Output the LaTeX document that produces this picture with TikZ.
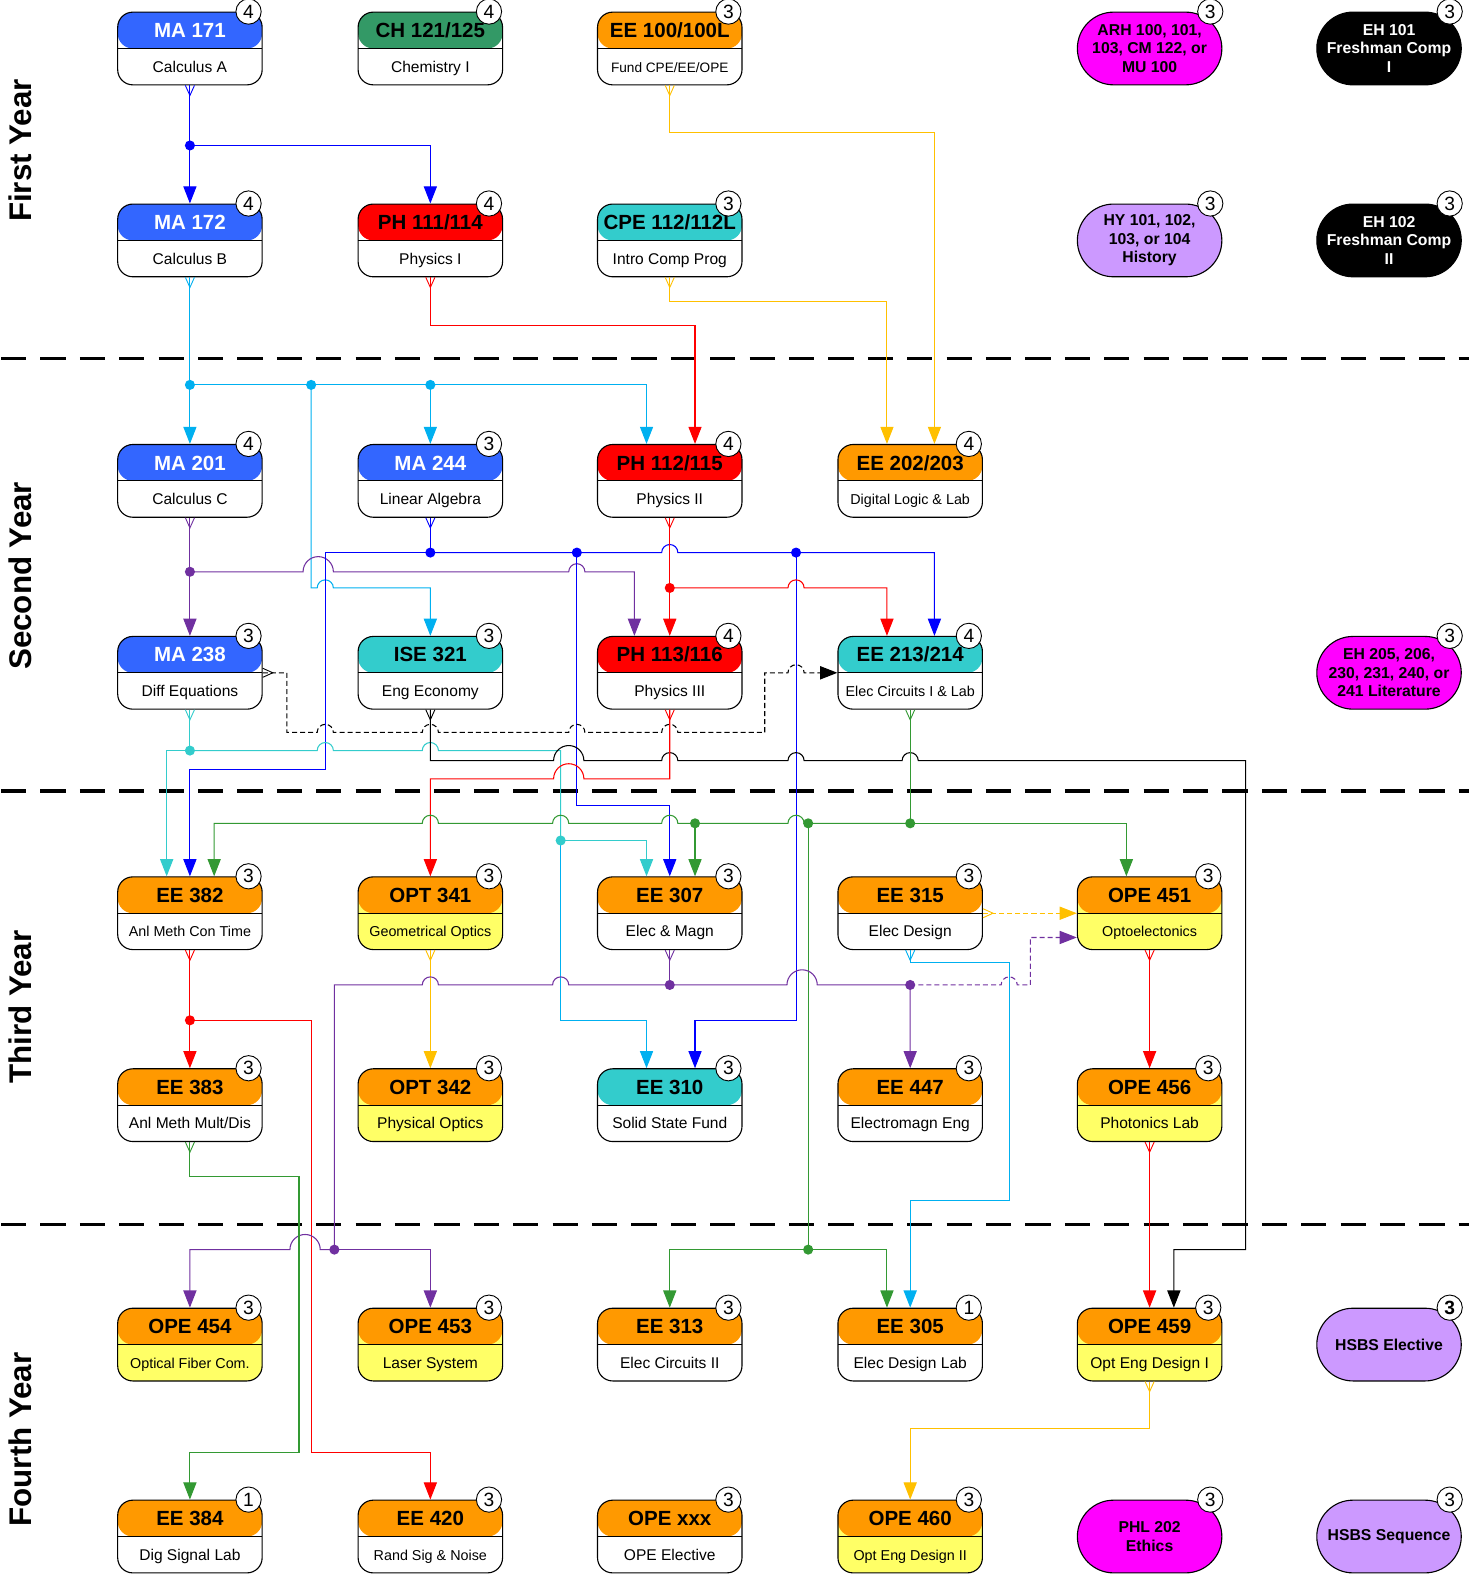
\documentclass[tikz,border=0pt]{standalone}
\usepackage{fontspec}
\setmainfont{Liberation Sans}
\usetikzlibrary{arrows.meta}
\definecolor{cBlue}{HTML}{0000FF}
\definecolor{cSky}{HTML}{00B0F0}
\definecolor{cTeal}{HTML}{33CCCC}
\definecolor{cRed}{HTML}{FF0000}
\definecolor{cGold}{HTML}{FFC000}
\definecolor{cPurp}{HTML}{7030A0}
\definecolor{cGreen}{HTML}{339933}
\definecolor{fBlue}{HTML}{3366FF}
\definecolor{fGreen}{HTML}{339966}
\definecolor{fOrange}{HTML}{FF9900}
\definecolor{fRed}{HTML}{FF0000}
\definecolor{fTeal}{HTML}{33CCCC}
\definecolor{fYellow}{HTML}{FFFF66}
\definecolor{fMag}{HTML}{FF00FF}
\definecolor{fLav}{HTML}{CC99FF}
\newcommand\smf{\fontsize{14.2}{16}\selectfont}
\newcommand\course[9]{%
  \node[cbox, fill=#7, path picture={\fill[#4] (path picture bounding box.north west) rectangle (path picture bounding box.east);\draw[line width=1.1pt] (path picture bounding box.west) -- (path picture bounding box.east);}] (#1) at (#2,#3) {};
  \node[htext, text=#5] (#1-t) at ([yshift=18pt]#1.center) {#6};
  \node[stext] (#1-s) at ([yshift=-18pt]#1.center) {#8};
  \node[badge] (#1-b) at ([xshift=-14pt]#1.north east) {#9};
}
\newcommand\pill[7]{%
  \node[pillbox, fill=#4, text=#5] (#1) at (#2,#3) {#6};
  \node[badge] (#1-b) at ([xshift=-12pt]#1.north east) {#7};
}
\tikzset{
  cbox/.style={draw, line width=1.1pt, rounded corners=15pt, minimum width=143pt, minimum height=72pt, inner sep=0pt},
  pillbox/.style={draw, line width=1.1pt, rounded corners=35.9pt, minimum width=143pt, minimum height=72pt, inner sep=0pt, align=center, font=\bfseries\fontsize{15.6}{18.5}\selectfont},
  htext/.style={inner sep=0pt, text height=14.5pt, text depth=0pt, font=\bfseries\fontsize{20.3}{24}\selectfont},
  stext/.style={inner sep=0pt, text height=10.8pt, text depth=0pt, font=\fontsize{15.4}{18}\selectfont},
  badge/.style={circle, draw, fill=white, line width=0.9pt, minimum size=25pt, inner sep=0pt, font=\fontsize{19}{20}\selectfont},
  yearlbl/.style={rotate=90, inner sep=0pt, font=\bfseries\fontsize{31}{36}\selectfont},
  ln/.style={color=#1, line width=1.05pt},
  arr/.style={-{Triangle[length=17pt,width=13pt]}},
  dsh/.style={dash pattern=on 5pt off 3pt},
  hr/.style={insert path={arc[start angle=180,end angle=0,radius=8pt]}},
  hl/.style={insert path={arc[start angle=0,end angle=180,radius=8pt]}},
  hrB/.style={insert path={arc[start angle=180,end angle=0,radius=15pt]}},
  hlB/.style={insert path={arc[start angle=0,end angle=180,radius=15pt]}},
  pics/cf/.style={code={\draw[line width=0.9pt] (-4.5,0) -- (0,10) -- (4.5,0);}},
  pics/cfr/.style={code={\draw[line width=0.9pt] (0,-4.5) -- (10,0) -- (0,4.5);}},
}
\begin{document}
\begin{tikzpicture}[x=1pt,y=-1pt]
\useasboundingbox (0,0) rectangle (1454,1569);
% year separators
\foreach \yy in {355,783,1212} \draw[line width=3.5pt, dash pattern=on 25pt off 14pt] (1,\yy) -- (1454,\yy);
\node[yearlbl] (y1) at (20,149) {First Year};
\node[yearlbl] (y2) at (20,570) {Second Year};
\node[yearlbl] (y3) at (20,997) {Third Year};
\node[yearlbl] (y4) at (20,1425) {Fourth Year};
% row 1
\course{ma171}{188}{48}{fBlue}{white}{MA 171}{white}{Calculus A}{4}
\course{ch121}{426}{48}{fGreen}{black}{CH 121/125}{white}{Chemistry I}{4}
\course{ee100}{663}{48}{fOrange}{black}{EE 100/100L}{white}{\fontsize{13.5}{16}\selectfont Fund CPE/EE/OPE}{3}
\pill{arh}{1138}{48}{fMag}{black}{ARH 100, 101,\\103, CM 122, or\\MU 100}{3}
\pill{eh101}{1375}{48}{black}{white}{EH 101\\Freshman Comp\\I}{3}
% row 2
\course{ma172}{188}{238}{fBlue}{white}{MA 172}{white}{Calculus B}{4}
\course{ph111}{426}{238}{fRed}{black}{PH 111/114}{white}{Physics I}{4}
\course{cpe112}{663}{238}{fTeal}{black}{CPE 112/112L}{white}{Intro Comp Prog}{3}
\pill{hy}{1138}{238}{fLav}{black}{HY 101, 102,\\103, or 104\\History}{3}
\pill{eh102}{1375}{238}{black}{white}{EH 102\\Freshman Comp\\II}{3}
% row 3
\course{ma201}{188}{476}{fBlue}{white}{MA 201}{white}{Calculus C}{4}
\course{ma244}{426}{476}{fBlue}{white}{MA 244}{white}{Linear Algebra}{3}
\course{ph112}{663}{476}{fRed}{black}{PH 112/115}{white}{Physics II}{4}
\course{ee202}{901}{476}{fOrange}{black}{EE 202/203}{white}{\smf Digital Logic \& Lab}{4}
% row 4
\course{ma238}{188}{666}{fBlue}{white}{MA 238}{white}{Diff Equations}{3}
\course{ise321}{426}{666}{fTeal}{black}{ISE 321}{white}{Eng Economy}{3}
\course{ph113}{663}{666}{fRed}{black}{PH 113/116}{white}{Physics III}{4}
\course{ee213}{901}{666}{fTeal}{black}{EE 213/214}{white}{\smf Elec Circuits I \& Lab}{4}
\pill{eh205}{1375}{666}{fMag}{black}{EH 205, 206,\\230, 231, 240, or\\241 Literature}{3}
% row 5
\course{ee382}{188}{904}{fOrange}{black}{EE 382}{white}{\smf Anl Meth Con Time}{3}
\course{opt341}{426}{904}{fOrange}{black}{OPT 341}{fYellow}{\smf Geometrical Optics}{3}
\course{ee307}{663}{904}{fOrange}{black}{EE 307}{white}{Elec \& Magn}{3}
\course{ee315}{901}{904}{fOrange}{black}{EE 315}{white}{Elec Design}{3}
\course{ope451}{1138}{904}{fOrange}{black}{OPE 451}{fYellow}{\smf Optoelectonics}{3}
% row 6
\course{ee383}{188}{1094}{fOrange}{black}{EE 383}{white}{Anl Meth Mult/Dis}{3}
\course{opt342}{426}{1094}{fOrange}{black}{OPT 342}{fYellow}{Physical Optics}{3}
\course{ee310}{663}{1094}{fTeal}{black}{EE 310}{white}{Solid State Fund}{3}
\course{ee447}{901}{1094}{fOrange}{black}{EE 447}{white}{Electromagn Eng}{3}
\course{ope456}{1138}{1094}{fOrange}{black}{OPE 456}{fYellow}{Photonics Lab}{3}
% row 7
\course{ope454}{188}{1331}{fOrange}{black}{OPE 454}{fYellow}{\smf Optical Fiber Com.}{3}
\course{ope453}{426}{1331}{fOrange}{black}{OPE 453}{fYellow}{Laser System}{3}
\course{ee313}{663}{1331}{fOrange}{black}{EE 313}{white}{Elec Circuits II}{3}
\course{ee305}{901}{1331}{fOrange}{black}{EE 305}{white}{Elec Design Lab}{1}
\course{ope459}{1138}{1331}{fOrange}{black}{OPE 459}{fYellow}{Opt Eng Design I}{3}
\pill{hsbse}{1375}{1331}{fLav}{black}{HSBS Elective}{\bfseries 3}
% row 8
\course{ee384}{188}{1521}{fOrange}{black}{EE 384}{white}{Dig Signal Lab}{1}
\course{ee420}{426}{1521}{fOrange}{black}{EE 420}{white}{\smf Rand Sig \& Noise}{3}
\course{opexxx}{663}{1521}{fOrange}{black}{OPE xxx}{white}{OPE Elective}{3}
\course{ope460}{901}{1521}{fOrange}{black}{OPE 460}{fYellow}{\smf Opt Eng Design II}{3}
\pill{phl202}{1138}{1521}{fMag}{black}{PHL 202\\Ethics}{3}
\pill{hsbss}{1375}{1521}{fLav}{black}{HSBS Sequence}{3}
% junctions
\coordinate (j1) at (188,144);
\coordinate (j2) at (188,381); \coordinate (j3) at (308,381); \coordinate (j4) at (426,381);
\coordinate (j5) at (188,566);
\coordinate (j6) at (426,547); \coordinate (j7) at (571,547); \coordinate (j8) at (788,547);
\coordinate (j9) at (663,582);
\coordinate (j10) at (188,743); \coordinate (j11) at (555,832);
\coordinate (j12) at (901,815); \coordinate (j13) at (800,815); \coordinate (j14) at (688,815);
\coordinate (j15) at (800,1237);
\coordinate (j16) at (188,1010);
\coordinate (j17) at (663,975); \coordinate (j18) at (331,1237); \coordinate (j19) at (901,975);
% connectors
\draw[ln=cBlue, arr] (ma171.south) -- (j1) -- (ma172.north);
\draw[ln=cBlue, arr] (j1) -- (426,144) -- (ph111.north);
\draw[ln=cGold, arr] (ee100.south) -- (663,131) -- (925,131) -- ([xshift=24pt]ee202.north);
\draw[ln=cGold, arr] (cpe112.south) -- (663,298) -- (878,298) -- ([xshift=-23pt]ee202.north);
\draw[ln=cRed, arr] (ph111.south) -- (426,322) -- (688,322) -- ([xshift=25pt]ph112.north);
\draw[ln=cSky, arr] (ma172.south) -- (j2) -- (ma201.north);
\draw[ln=cSky, arr] (j2) -- (640,381) -- ([xshift=-23pt]ph112.north);
\draw[ln=cSky, arr] (j4) -- (ma244.north);
\draw[ln=cSky, arr] (j3) -- (308,582) -- (314,582) [hr] -- (426,582) -- (ise321.north);
\draw[ln=cPurp, arr] (ma201.south) -- (j5) -- (ma238.north);
\draw[ln=cPurp, arr] (j5) -- (300,566) [hrB] -- (563,566) [hr] -- (628,566) -- ([xshift=-35pt]ph113.north);
\draw[ln=cBlue] (ma244.south) -- (j6);
\draw[ln=cBlue, arr] (j6) -- (322,547) -- (322,762) -- (188,762) -- (ee382.north);
\draw[ln=cBlue, arr] (j6) -- (655,547) [hr] -- (925,547) -- ([xshift=24pt]ee213.north);
\draw[ln=cBlue, arr] (j7) -- (571,797) -- (663,797) -- (ee307.north);
\draw[ln=cBlue, arr] (j8) -- (788,1010) -- (688,1010) -- ([xshift=25pt]ee310.north);
\draw[ln=cRed, arr] (ph112.south) -- (j9) -- (ph113.north);
\draw[ln=cRed, arr] (j9) -- (780,582) [hr] -- (878,582) -- ([xshift=-23pt]ee213.north);
\draw[ln=black, dsh, arr] (ma238.east) -- (284,666) -- (284,725) -- (314,725) [hr] -- (418,725) [hr] -- (563,725) [hr] -- (655,725) [hr] -- (757,725) -- (757,666) -- (780,666) [hr] -- (ee213.west);
\draw[ln=cTeal] (ma238.south) -- (j10);
\draw[ln=cTeal, arr] (j10) -- (165,743) -- ([xshift=-23pt]ee382.north);
\draw[ln=cTeal] (j10) -- (314,743) [hr] -- (418,743) [hr] -- (555,743) -- (j11);
\draw[ln=cTeal, arr] (j11) -- (640,832) -- ([xshift=-23pt]ee307.north);
\draw[ln=cSky, arr] (j11) -- (555,1010) -- (640,1010) -- ([xshift=-23pt]ee310.north);
\draw[ln=black, arr] (ise321.south) -- (426,753) -- (548,753) [hrB] -- (655,753) [hr] -- (780,753) [hr] -- (893,753) [hr] -- (1233,753) -- (1233,1237) -- (1162,1237) -- ([xshift=24pt]ope459.north);
\draw[ln=cRed, arr] (ph113.south) -- (663,771) -- (578,771) [hlB] -- (426,771) -- (opt341.north);
\draw[ln=cGreen] (ee213.south) -- (j12);
\draw[ln=cGreen, arr] (j12) -- (1115,815) -- ([xshift=-23pt]ope451.north);
\draw[ln=cGreen, arr] (j12) -- (796,815) [hl] -- (671,815) [hl] -- (563,815) [hl] -- (434,815) [hl] -- (212,815) -- ([xshift=24pt]ee382.north);
\draw[ln=cGreen, arr] (j14) -- ([xshift=25pt]ee307.north);
\draw[ln=cGreen] (j13) -- (j15);
\draw[ln=cGreen, arr] (j15) -- (663,1237) -- (ee313.north);
\draw[ln=cGreen, arr] (j15) -- (878,1237) -- ([xshift=-23pt]ee305.north);
\draw[ln=cRed, arr] (ee382.south) -- (j16) -- (ee383.north);
\draw[ln=cRed, arr] (j16) -- (308,1010) -- (308,1438) -- (426,1438) -- (ee420.north);
\draw[ln=cGold, arr] (opt341.south) -- (opt342.north);
\draw[ln=cPurp] (ee307.south) -- (j17);
\draw[ln=cPurp] (j17) -- (563,975) [hl] -- (434,975) [hl] -- (331,975) -- (j18);
\draw[ln=cPurp, arr] (j18) -- (317,1237) [hlB] -- (188,1237) -- (ope454.north);
\draw[ln=cPurp, arr] (j18) -- (426,1237) -- (ope453.north);
\draw[ln=cPurp, arr] (j17) -- (779,975) [hrB] -- (j19) -- (ee447.north);
\draw[ln=cPurp, dsh, arr] (j19) -- (991,975) [hr] -- (1020,975) -- (1020,928) -- ([yshift=-24pt]ope451.west);
\draw[ln=cGold, dsh, arr] (ee315.east) -- (ope451.west);
\draw[ln=cSky, arr] (ee315.south) -- (901,953) -- (999,953) -- (999,1188) -- (901,1188) -- (ee305.north);
\draw[ln=cRed, arr] (ope451.south) -- (ope456.north);
\draw[ln=cRed, arr] (ope456.south) -- (ope459.north);
\draw[ln=cGreen, arr] (ee383.south) -- (188,1165) -- (296,1165) -- (296,1438) -- (188,1438) -- (ee384.north);
\draw[ln=cGold, arr] (ope459.south) -- (1138,1414) -- (901,1414) -- (ope460.north);
% junction dots
\foreach \c/\k in {j1/cBlue,j2/cSky,j3/cSky,j4/cSky,j5/cPurp,j6/cBlue,j7/cBlue,j8/cBlue,j9/cRed,j10/cTeal,j11/cTeal,j12/cGreen,j13/cGreen,j14/cGreen,j15/cGreen,j16/cRed,j17/cPurp,j18/cPurp,j19/cPurp}
  \fill[\k] (\c) circle (5pt);
% crow's feet
\pic[color=cBlue] at (ma171.south) {cf};
\pic[color=cSky] at (ma172.south) {cf};
\pic[color=cRed] at (ph111.south) {cf};
\pic[color=cGold] at (ee100.south) {cf};
\pic[color=cGold] at (cpe112.south) {cf};
\pic[color=cPurp] at (ma201.south) {cf};
\pic[color=cBlue] at (ma244.south) {cf};
\pic[color=cRed] at (ph112.south) {cf};
\pic[color=cTeal] at (ma238.south) {cf};
\pic[color=black] at (ma238.east) {cfr};
\pic[color=black] at (ise321.south) {cf};
\pic[color=cRed] at (ph113.south) {cf};
\pic[color=cGreen] at (ee213.south) {cf};
\pic[color=cRed] at (ee382.south) {cf};
\pic[color=cGold] at (opt341.south) {cf};
\pic[color=cPurp] at (ee307.south) {cf};
\pic[color=cSky] at (ee315.south) {cf};
\pic[color=cGold] at (ee315.east) {cfr};
\pic[color=cRed] at (ope451.south) {cf};
\pic[color=cGreen] at (ee383.south) {cf};
\pic[color=cRed] at (ope456.south) {cf};
\pic[color=cGold] at (ope459.south) {cf};
\end{tikzpicture}
\end{document}
